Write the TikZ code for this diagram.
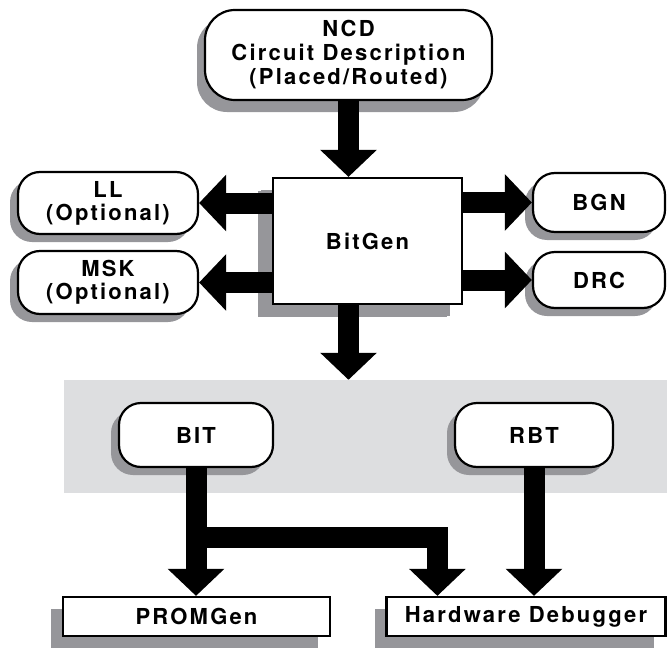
\documentclass[tikz,border=0pt]{standalone}
\usepackage{fontspec}
\setmainfont{TeX Gyre Heros}[LetterSpace=10]
\usetikzlibrary{arrows.meta,shadows,calc}
\definecolor{bandgray}{RGB}{221,222,224}
\definecolor{shadowgray}{RGB}{150,150,154}

\begin{document}
\begin{tikzpicture}[x=1pt, y=-1pt, font=\fontsize{22}{24}\selectfont\bfseries]
\tikzstyle{pill} = [rectangle, rounded corners=22pt, draw=black, line width=2.2pt, fill=white, align=center, inner sep=0pt, drop shadow={shadow xshift=-8pt, shadow yshift=-8pt, fill=shadowgray, opacity=1}]
\tikzstyle{tool} = [rectangle, draw=black, line width=2.2pt, fill=white, align=center, inner sep=0pt, drop shadow={shadow xshift=-12pt, shadow yshift=-12pt, fill=shadowgray, opacity=1}]
\tikzstyle{fatarrow} = [line width=21pt, -{Triangle[width=55pt,length=27pt]}]

\useasboundingbox (0,0) rectangle (667,653);

% grey band behind the output files
\node (band) [fill=bandgray, minimum width=603pt, minimum height=113pt, inner sep=0pt] at (365.5,436.5) {};

\node (ncd) [pill, rounded corners=30pt, minimum width=287pt, minimum height=90pt, drop shadow={shadow xshift=-8pt, shadow yshift=-12pt, fill=shadowgray, opacity=1}] at (348.5,55) {NCD\\Circuit Description\\(Placed/Routed)};
\node (bitgen) [tool, minimum width=189pt, minimum height=126pt, drop shadow={shadow xshift=-15pt, shadow yshift=-13pt, fill=shadowgray, opacity=1}] at (367.5,241) {BitGen};
\node (ll) [pill, minimum width=180pt, minimum height=62pt, font=\fontsize{22}{23}\selectfont\bfseries] at (108,203) {LL\\(Optional)};
\node (msk) [pill, minimum width=180pt, minimum height=63pt, font=\fontsize{22}{23}\selectfont\bfseries] at (108,282.5) {MSK\\(Optional)};
\node (bgn) [pill, minimum width=132pt, minimum height=59pt] at (599,202.5) {BGN};
\node (drc) [pill, minimum width=132pt, minimum height=56pt] at (599,280) {DRC};
\node (bit) [pill, minimum width=154pt, minimum height=64pt] at (196,435) {BIT};
\node (rbt) [pill, minimum width=158pt, minimum height=64pt] at (534,435) {RBT};
\node (promgen) [tool, minimum width=267pt, minimum height=39pt] at (196.5,616.5) {PROMGen};
\node (debugger) [tool, minimum width=279pt, minimum height=39pt] at (526,616.5) {Hardware Debugger};

\coordinate (split) at (bit.south |- 0,537);
\coordinate (dbgin) at ($(debugger.north west)+(52,0)$);

\draw [fatarrow] (ncd.south) -- (ncd.south |- bitgen.north);
\draw [fatarrow] (bitgen.west |- ll.east) -- (ll.east);
\draw [fatarrow] (bitgen.west |- msk.east) -- (msk.east);
\draw [fatarrow] (bitgen.east |- bgn.west) -- (bgn.west);
\draw [fatarrow] (bitgen.east |- drc.west) -- (drc.west);
\draw [fatarrow] (ncd.south |- bitgen.south) -- (ncd.south |- band.north);
\draw [fatarrow] (bit.south) -- (bit.south |- promgen.north);
\draw [fatarrow] (split) -| (dbgin);
\draw [fatarrow] (rbt.south) -- (rbt.south |- debugger.north);
\end{tikzpicture}
\end{document}
